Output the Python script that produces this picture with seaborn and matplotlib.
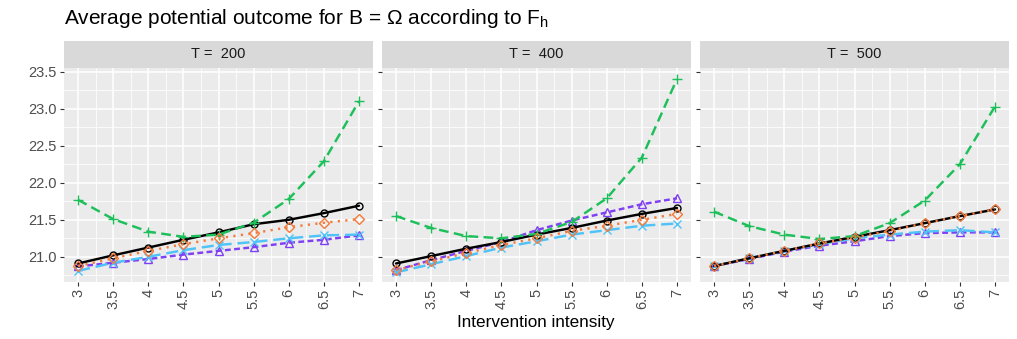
import matplotlib
matplotlib.use("Agg")
import matplotlib.pyplot as plt
import matplotlib.patches as mpatches
import seaborn as sns
import numpy as np
import pandas as pd

intensity = [3, 3.5, 4, 4.5, 5, 5.5, 6, 6.5, 7]
horizons = ["200", "400", "500"]

# values, one list per horizon
black = {
    "200": [20.91, 21.02, 21.125, 21.23, 21.33, 21.44, 21.50, 21.59, 21.69],
    "400": [20.91, 21.01, 21.11, 21.20, 21.30, 21.39, 21.49, 21.58, 21.66],
    "500": [20.875, 20.98, 21.08, 21.18, 21.27, 21.36, 21.455, 21.55, 21.64],
}
green = {
    "200": [21.77, 21.51, 21.34, 21.27, 21.30, 21.46, 21.78, 22.29, 23.10],
    "400": [21.55, 21.39, 21.28, 21.25, 21.31, 21.47, 21.79, 22.34, 23.40],
    "500": [21.61, 21.415, 21.30, 21.24, 21.28, 21.455, 21.76, 22.25, 23.03],
}
orange = {
    "200": [20.875, 20.98, 21.08, 21.17, 21.25, 21.32, 21.40, 21.46, 21.51],
    "400": [20.82, 20.94, 21.05, 21.16, 21.25, 21.35, 21.42, 21.50, 21.58],
    "500": [20.875, 20.98, 21.08, 21.18, 21.26, 21.35, 21.455, 21.55, 21.64],
}
cyan = {
    "200": [20.81, 20.92, 21.00, 21.09, 21.16, 21.20, 21.25, 21.29, 21.30],
    "400": [20.79, 20.90, 21.01, 21.125, 21.21, 21.30, 21.36, 21.42, 21.45],
    "500": [20.875, 20.98, 21.08, 21.17, 21.25, 21.30, 21.34, 21.36, 21.33],
}
purple = {
    "200": [20.87, 20.92, 20.97, 21.03, 21.08, 21.13, 21.19, 21.23, 21.29],
    "400": [20.82, 20.955, 21.08, 21.20, 21.36, 21.49, 21.60, 21.71, 21.79],
    "500": [20.875, 20.97, 21.07, 21.15, 21.21, 21.28, 21.32, 21.33, 21.33],
}

series = [
    ("purple", purple, "#7F3FF2", "^", (0, (2.4, 1.4)), 6),
    ("cyan", cyan, "#4FC3F7", "x", (0, (5.0, 2.4)), 6),
    ("black", black, "#000000", "o", "-", 5),
    ("green", green, "#1DBF5A", "+", (0, (4.0, 2.2)), 7.5),
    ("orange", orange, "#F47A3A", "D", (0, (0.9, 2.2)), 5),
]

rows = []
for name, vals, *_ in series:
    for h in horizons:
        for x, y in zip(intensity, vals[h]):
            rows.append({"series": name, "T": h, "x": x, "y": y})
df = pd.DataFrame(rows)

sns.set_theme(style="darkgrid")
plt.rcParams["font.family"] = ["Liberation Sans", "DejaVu Sans"]

fig = plt.figure(figsize=(10.17, 3.39), dpi=100)
W, H = 1017, 339
lefts = [64, 382, 700]
pw = 309
top, bottom = 68, 282
strip_h = 27

for i, h in enumerate(horizons):
    ax = fig.add_axes([lefts[i] / W, 1 - bottom / H, pw / W, (bottom - top) / H])
    ax.set_facecolor("#EBEBEB")
    sub = df[df["T"] == h]
    for name, vals, col, mk, ls, ms in series:
        d = sub[sub["series"] == name]
        sns.lineplot(data=d, x="x", y="y", ax=ax, color=col, linestyle=ls,
                     linewidth=1.75, marker=mk, markersize=ms,
                     markerfacecolor="none", markeredgecolor=col,
                     markeredgewidth=1.0, legend=False)
    ax.set_xlim(2.8, 7.2)
    ax.set_ylim(20.66, 23.55)
    ax.set_xticks(intensity)
    ax.set_xticklabels([f"{v:g}" for v in intensity], rotation=90)
    ax.set_xticks([3.25, 3.75, 4.25, 4.75, 5.25, 5.75, 6.25, 6.75], minor=True)
    yt = [21.0, 21.5, 22.0, 22.5, 23.0, 23.5]
    ax.set_yticks(yt)
    ax.set_yticks([20.75, 21.25, 21.75, 22.25, 22.75, 23.25], minor=True)
    if i == 0:
        ax.set_yticklabels([f"{v:.1f}" for v in yt])
    else:
        ax.set_yticklabels([])
    ax.grid(which="major", color="white", linewidth=1.1)
    ax.grid(which="minor", color="white", linewidth=0.55)
    ax.tick_params(which="major", length=3, width=0.8, color="#333333",
                   labelsize=10.5, labelcolor="#4D4D4D", pad=2,
                   bottom=True, left=True)
    ax.tick_params(which="minor", length=0)
    for s in ax.spines.values():
        s.set_visible(False)
    ax.set_xlabel("")
    ax.set_ylabel("")
    frac = strip_h / (bottom - top)
    ax.add_patch(mpatches.Rectangle((0, 1), 1, frac, transform=ax.transAxes,
                                    facecolor="#D9D9D9", edgecolor="none",
                                    clip_on=False))
    ax.text(0.5, 1 + frac / 2, f"T =  {h}", transform=ax.transAxes,
            ha="center", va="center", fontsize=10.5, color="#1A1A1A")

fig.text(536 / W, 1 - 322 / H, "Intervention intensity", ha="center",
         va="center", fontsize=12.3, color="black")
fig.text(64 / W, 1 - 24 / H,
         r"Average potential outcome for B = Ω according to F$_{\mathregular{h}}$",
         ha="left", va="baseline", fontsize=15, color="black")

fig.savefig("out.png", dpi=100)
